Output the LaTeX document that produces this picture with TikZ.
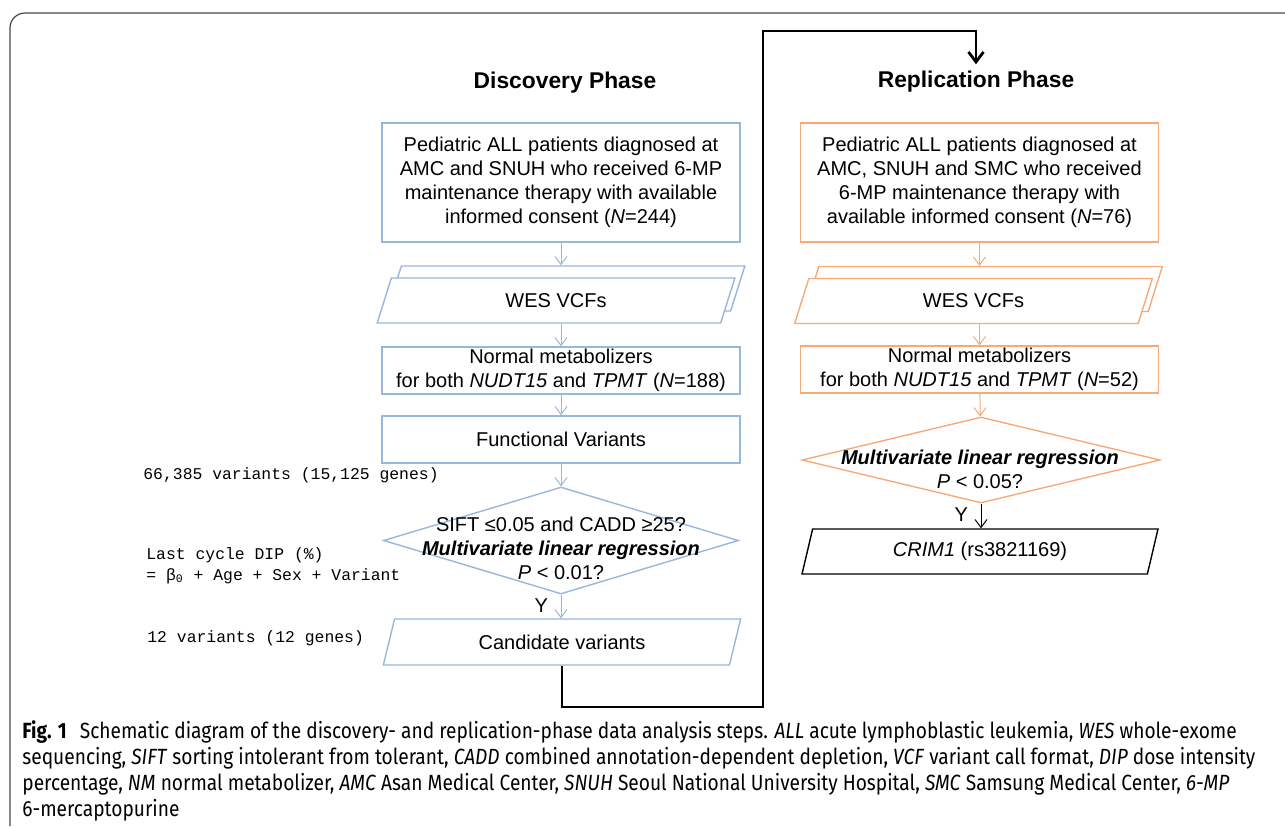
\documentclass[tikz,border=0pt]{standalone}
\usepackage{fontspec}
\setmainfont{Liberation Sans}
\setmonofont{Liberation Mono}
\newfontfamily\capfont[FakeStretch=0.87]{Fira Sans}
\usetikzlibrary{shapes.geometric, arrows.meta, positioning, backgrounds, calc}
\definecolor{discblue}{RGB}{152,183,218}
\definecolor{replorange}{RGB}{245,170,120}
\definecolor{framegray}{RGB}{70,70,70}

\begin{document}
\begin{tikzpicture}[
    x=0.5pt, y=-0.5pt,
    boxfont/.style={font=\fontsize{10}{12}\selectfont},
    flowbox/.style={rectangle, draw, line width=0.7pt, minimum width=179pt,
                    align=center, inner sep=0pt, boxfont},
    datapar/.style={trapezium, trapezium left angle=76, trapezium right angle=104,
                    trapezium stretches=true, draw, line width=0.7pt, fill=white,
                    minimum width=179pt, minimum height=22.5pt, inner sep=1pt, boxfont},
    decide/.style={diamond, draw, line width=0.7pt, inner sep=1pt},
    decidetext/.style={align=center, inner sep=0pt, boxfont},
    phase/.style={font=\fontsize{11.4}{14}\selectfont\bfseries},
    note/.style={anchor=west, align=left, inner sep=0pt,
                 font=\ttfamily\fontsize{8.2}{10.5}\selectfont},
    flow/.style={-{Straight Barb[length=4pt,width=6pt]}, line width=0.5pt},
    linkline/.style={-{Straight Barb[length=5pt,width=7.5pt]}, line width=1.4pt, black}
]
\useasboundingbox (0,0) rectangle (1285,826);

% Frame
\draw[framegray, line width=0.6pt, rounded corners=7.5pt] (10,826) -- (10,13) -- (1285,13);

% Titles
\node[phase] (dtitle) at (565,83) {Discovery Phase};
\node[phase] (rtitle) at (976,82) {Replication Phase};

% Discovery phase
\node[flowbox, draw=discblue, minimum height=59.5pt] (d1) at (561,182.5)
     {Pediatric ALL patients diagnosed at\\AMC and SNUH who received 6-MP\\maintenance therapy with available\\informed consent (\textit{N}=244)};
\node[datapar, draw=discblue] (d2) at (556,300.5) {WES VCFs};
\begin{scope}[on background layer]
  \node[datapar, draw=discblue] (d2b) at ($(d2)+(10,-12)$) {\phantom{WES VCFs}};
\end{scope}
\node[flowbox, draw=discblue, minimum height=23.5pt] (d3) at (561,370.5)
     {Normal metabolizers\\for both \textit{NUDT15} and \textit{TPMT} (\textit{N}=188)};
\node[flowbox, draw=discblue, minimum height=23.5pt] (d4) at (561,439.5) {Functional Variants};
\node[decide, draw=discblue, minimum width=177.5pt, minimum height=53.5pt] (d5) at (561,540.5) {\phantom{x}};
\node[decidetext] (d5t) at (561,548)
     {SIFT ≤0.05 and CADD ≥25?\\\textbf{\textit{Multivariate linear regression}}\\\textit{P} < 0.01?};
\node[datapar, draw=discblue, trapezium left angle=73, trapezium right angle=107,
      minimum width=180pt, minimum height=23pt] (d6) at (562,642) {Candidate variants};

% Side notes
\node[note] (nall) at (143,475) {66,385 variants (15,125 genes)};
\node[note] (nmodel) at (146,565.5) {Last cycle DIP (\%)\\= β\textsubscript{0} + Age + Sex + Variant};
\node[note] (ncand) at (147,638) {12 variants (12 genes)};

% Discovery arrows
\draw[flow, discblue] (d1) -- (d1 |- d2b.north);
\draw[flow, discblue] (d2.south -| d3) -- (d3);
\draw[flow, discblue] (d3) -- (d4);
\draw[flow, discblue] (d4) -- (d5);
\draw[flow, discblue] (d5.south) -- (d5.south |- d6.north)
     node[pos=0.45, left=3pt, text=black, boxfont] (dyes) {Y};

% Replication phase
\node[flowbox, draw=replorange, minimum height=59.5pt] (r1) at (979.5,182.5)
     {Pediatric ALL patients diagnosed at\\AMC, SNUH and SMC who received\\6-MP maintenance therapy with\\available informed consent (\textit{N}=76)};
\node[datapar, draw=replorange] (r2) at (973.5,301) {WES VCFs};
\begin{scope}[on background layer]
  \node[datapar, draw=replorange] (r2b) at ($(r2)+(10,-12)$) {\phantom{WES VCFs}};
\end{scope}
\node[flowbox, draw=replorange, minimum height=23.5pt] (r3) at (979.5,369.5)
     {Normal metabolizers\\for both \textit{NUDT15} and \textit{TPMT} (\textit{N}=52)};
\node[decide, draw=replorange, minimum width=179pt, minimum height=43pt] (r4) at (981,460) {\phantom{x}};
\node[decidetext] (r4t) at (980,469)
     {\textbf{\textit{Multivariate linear regression}}\\\textit{P} < 0.05?};
\node[datapar, draw=black] (r5) at (980,551.5) {\textit{CRIM1} (rs3821169)};

% Replication arrows
\draw[flow, replorange] (r1) -- (r1 |- r2b.north);
\draw[flow, replorange] (r2.south -| r3) -- (r3);
\draw[flow, replorange] (r3) -- (r4);
\draw[flow, black] (r4.south) -- (r4.south |- r5.north)
     node[pos=0.45, left=3pt, boxfont] (ryes) {Y};

% Link from discovery to replication
\coordinate (lowturn) at (763,707);
\coordinate (topturn) at (976,31);
\draw[linkline] (d6.south) |- (lowturn) |- (topturn) -- (topturn |- rtitle.north);

% Caption
\node[anchor=north west, align=left, inner sep=0pt, font=\capfont\fontsize{11}{13}\selectfont] (caption) at (22,720)
     {\textbf{Fig. 1}\hspace{0.6em}Schematic diagram of the discovery- and replication-phase data analysis steps. \textit{ALL} acute lymphoblastic leukemia, \textit{WES} whole-exome\\
      sequencing, \textit{SIFT} sorting intolerant from tolerant, \textit{CADD} combined annotation-dependent depletion, \textit{VCF} variant call format, \textit{DIP} dose intensity\\
      percentage, \textit{NM} normal metabolizer, \textit{AMC} Asan Medical Center, \textit{SNUH} Seoul National University Hospital, \textit{SMC} Samsung Medical Center, \textit{6-MP}\\
      6-mercaptopurine};
\end{tikzpicture}
\end{document}
